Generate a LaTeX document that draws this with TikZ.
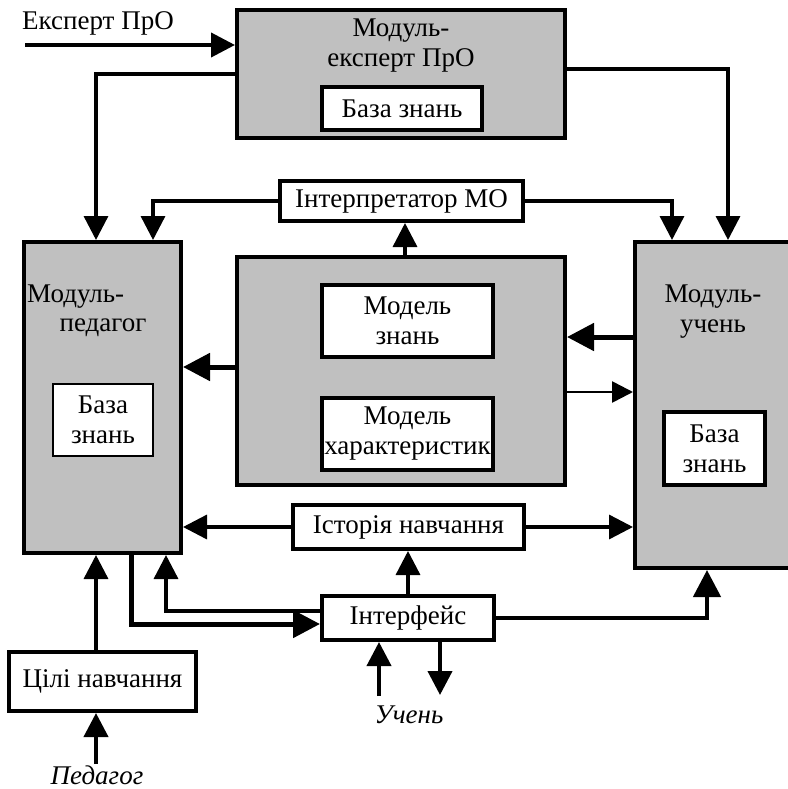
\documentclass[tikz,border=0pt]{standalone}
\usepackage{fontspec}
\setmainfont{Liberation Serif}
\usetikzlibrary{arrows.meta,calc}
\definecolor{boxgray}{RGB}{192,192,192}
\begin{document}
\begin{tikzpicture}[x=1pt,y=-1pt,
  font=\fontsize{27}{30}\selectfont,
  gbox/.style={draw, fill=boxgray, line width=4pt, inner sep=0},
  wbox/.style={draw, fill=white, line width=4pt, inner sep=0, align=center},
  wthin/.style={draw, fill=white, line width=1.8pt, inner sep=0, align=center},
  txt/.style={inner sep=0, align=center},
  itxt/.style={inner sep=0, font=\fontsize{27}{30}\selectfont\itshape},
  conn/.style={line width=3.4pt, -{Triangle[length=24pt,width=24pt]}},
  connthick/.style={line width=5pt, -{Triangle[length=27pt,width=27pt]}},
  connthin/.style={line width=2.6pt, -{Triangle[length=21pt,width=21pt]}}
]
\useasboundingbox (0,0) rectangle (787,789);

% top module
\node[gbox, minimum width=328, minimum height=128] (top) at (401,74) {};
\node[txt] (toptxt) at (401,46) {Модуль-\\експерт ПрО};
\node[wbox, minimum width=160, minimum height=43] (topkb) at (402,108.5) {База знань};
\node[txt] (expert) at (98,23) {Експерт ПрО};
\coordinate (expin) at (25,45);

% interpreter
\node[wbox, minimum width=243, minimum height=40] (interp) at (401.5,201) {Інтерпретатор МО};

% left module
\node[gbox, minimum width=157, minimum height=311] (left) at (102.5,397.5) {};
\node[txt, anchor=west] (lefttxt1) at (27,297) {Модуль-};
\node[txt] (lefttxt2) at (103,328) {педагог};
\node[wthin, minimum width=100, minimum height=72] (leftkb) at (103,420) {База\\знань};

% middle
\node[gbox, minimum width=328, minimum height=228] (mid) at (401,371) {};
\node[wbox, minimum width=171, minimum height=72] (mk) at (407.5,321) {Модель\\знань};
\node[wbox, minimum width=171, minimum height=72] (mc) at (407.5,434) {};
\node[txt] (mctxt) at (mc.center) {Модель\\характеристик};

% right module
\node[gbox, minimum width=160, minimum height=326] (right) at (715,405) {};
\node[txt] (righttxt) at (713,312) {Модуль-\\учень};
\node[wbox, minimum width=101, minimum height=73] (rightkb) at (714.5,448.5) {База\\знань};

% bottom
\node[wbox, minimum width=231, minimum height=44] (hist) at (408.5,527) {Історія навчання};
\node[wbox, minimum width=172, minimum height=44] (iface) at (408,618) {Інтерфейс};
\node[wbox, minimum width=187, minimum height=59] (goals) at (102.5,681.5) {Цілі навчання};
\node[itxt] (ped) at (97,775) {Педагог};
\node[itxt] (stud) at (409,715) {Учень};

\coordinate (pedtop) at (96,764);
\coordinate (uin) at (379,696);
\coordinate (uout) at (440,695);

% connectors
\draw[conn, line width=4pt] (expin) -- (expin -| top.west);
\coordinate (a1) at ([xshift=-6.5]left.north);
\draw[conn] (top.west) -| (a1);
\coordinate (a2) at ([yshift=5]top.east);
\coordinate (a3) at ([xshift=13]right.north);
\draw[conn] (a2) -| (a3);
\coordinate (a4) at ([xshift=50.5]left.north);
\draw[conn] (interp.west) -| (a4);
\coordinate (a5) at ([xshift=-43]right.north);
\draw[conn] (interp.east) -| (a5);
\coordinate (c1) at ([xshift=4]mid.north);
\draw[conn] (c1) -- (c1 |- interp.south);

\coordinate (row1) at (0,337);
\coordinate (row2) at (0,392);
\coordinate (row3) at (0,367);
\draw[connthick] (right.west |- row1) -- (mid.east |- row1);
\draw[connthin] (mid.east |- row2) -- (right.west |- row2);
\draw[connthick] (mid.west |- row3) -- (left.east |- row3);
\draw[conn] (hist.west) -- (left.east |- hist.west);
\draw[conn] (hist.east) -- (right.west |- hist.east);
\draw[conn] (iface.north) -- (iface.north |- hist.south);

\coordinate (c2) at ([xshift=-8]right.south);
\draw[connthick, line width=4.5pt] (iface.east) -| (c2);
\coordinate (c3) at ([xshift=28.5]left.south);
\coordinate (c4) at ([yshift=-6]iface.west);
\draw[connthick] (c3) |- (c4);
\coordinate (c5) at ([yshift=7]iface.west);
\coordinate (c6) at ([xshift=63.5]left.south);
\draw[conn] (c5) -| (c6);
\coordinate (c7) at ([xshift=-6.5]goals.north);
\draw[conn] (c7) -- (c7 |- left.south);
\draw[conn, line width=4pt] (pedtop) -- (pedtop |- goals.south);
\draw[conn, line width=4pt] (uin) -- (uin |- iface.south);
\draw[conn, line width=4pt] (uout |- iface.south) -- (uout);
\end{tikzpicture}
\end{document}
